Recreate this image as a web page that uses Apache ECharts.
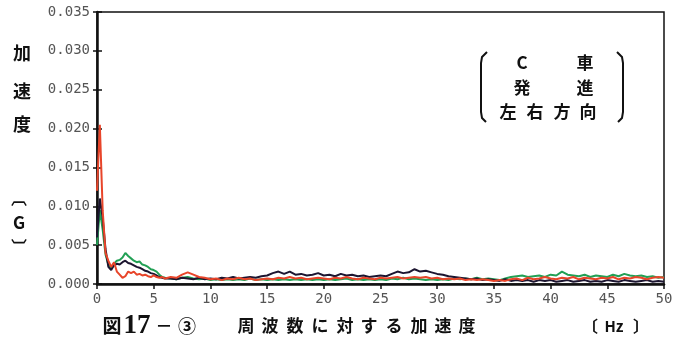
<!DOCTYPE html>
<html>
<head>
<meta charset="utf-8">
<script src="https://cdn.jsdelivr.net/npm/echarts@6/dist/echarts.min.js"></script>
<style>
  html, body { margin: 0; padding: 0; background: #fff; }
  #chart { width: 689px; height: 337px; }
</style>
</head>
<body>
<div id="chart"></div>
<script>
// Frequency grid (Hz)
const freq = [
  0, 0.25, 0.5, 0.75, 1, 1.25, 1.5, 1.75, 2, 2.25,
  2.5, 2.75, 3, 3.25, 3.5, 3.75, 4, 4.25, 4.5, 4.75,
  5, 5.25, 5.5, 5.75, 6, 6.5, 7, 7.5, 8, 8.5,
  9, 9.5, 10, 10.5, 11, 11.5, 12, 12.5, 13, 13.5,
  14, 14.5, 15, 15.5, 16, 16.5, 17, 17.5, 18, 18.5,
  19, 19.5, 20, 20.5, 21, 21.5, 22, 22.5, 23, 23.5,
  24, 24.5, 25, 25.5, 26, 26.5, 27, 27.5, 28, 28.5,
  29, 29.5, 30, 30.5, 31, 31.5, 32, 32.5, 33, 33.5,
  34, 34.5, 35, 35.5, 36, 36.5, 37, 37.5, 38, 38.5,
  39, 39.5, 40, 40.5, 41, 41.5, 42, 42.5, 43, 43.5,
  44, 44.5, 45, 45.5, 46, 46.5, 47, 47.5, 48, 48.5,
  49, 49.5, 50
];

// Acceleration (G) – dark trace
const accBlack = [
  .0060, .0110, .0085, .0045, .0022, .0018, .0024, .0026, .0025, .0028,
  .0030, .0027, .0026, .0024, .0022, .0021, .0019, .0017, .0016, .0014,
  .0013, .0011, .0009, .0008, .0007, .0007, .0006, .0008, .0007, .0006,
  .0008, .0006, .0007, .0006, .0008, .0007, .0009, .0007, .0008, .0009,
  .0008, .0010, .0011, .0014, .0016, .0013, .0016, .0012, .0013, .0011,
  .0012, .0014, .0011, .0012, .0010, .0013, .0011, .0012, .0010, .0011,
  .0009, .0010, .0011, .0010, .0013, .0016, .0014, .0015, .0019, .0016,
  .0017, .0015, .0013, .0012, .0010, .0009, .0008, .0007, .0006, .0007,
  .0005, .0006, .0005, .0004, .0006, .0004, .0005, .0004, .0005, .0003,
  .0005, .0004, .0005, .0003, .0004, .0005, .0003, .0004, .0005, .0003,
  .0004, .0003, .0005, .0004, .0003, .0005, .0004, .0003, .0004, .0005,
  .0003, .0004, .0003
];

// Acceleration (G) – green trace
const accGreen = [
  .0050, .0095, .0070, .0038, .0025, .0020, .0026, .0030, .0031, .0034,
  .0040, .0036, .0033, .0030, .0028, .0029, .0025, .0024, .0022, .0019,
  .0018, .0016, .0012, .0009, .0008, .0007, .0006, .0008, .0009, .0007,
  .0006, .0007, .0005, .0006, .0005, .0006, .0005, .0006, .0005, .0007,
  .0005, .0006, .0005, .0006, .0005, .0006, .0005, .0006, .0005, .0006,
  .0005, .0006, .0005, .0006, .0005, .0006, .0007, .0005, .0006, .0005,
  .0006, .0005, .0006, .0005, .0007, .0006, .0008, .0006, .0007, .0006,
  .0005, .0006, .0005, .0006, .0005, .0007, .0006, .0007, .0006, .0008,
  .0006, .0007, .0006, .0005, .0007, .0009, .0010, .0011, .0009, .0010,
  .0011, .0009, .0012, .0011, .0016, .0012, .0011, .0010, .0012, .0009,
  .0011, .0010, .0009, .0012, .0010, .0013, .0011, .0010, .0011, .0009,
  .0010, .0008, .0009
];

// Acceleration (G) – red trace
const accRed = [
  .0120, .0205, .0095, .0040, .0030, .0022, .0028, .0016, .0012, .0008,
  .0010, .0016, .0014, .0016, .0012, .0013, .0011, .0012, .0010, .0009,
  .0011, .0009, .0008, .0009, .0007, .0009, .0008, .0012, .0015, .0012,
  .0009, .0008, .0006, .0007, .0005, .0007, .0006, .0008, .0006, .0007,
  .0005, .0006, .0007, .0006, .0008, .0007, .0009, .0007, .0008, .0006,
  .0007, .0008, .0007, .0006, .0008, .0007, .0009, .0007, .0006, .0008,
  .0007, .0006, .0008, .0007, .0008, .0009, .0007, .0008, .0009, .0008,
  .0009, .0007, .0008, .0006, .0007, .0006, .0007, .0005, .0006, .0005,
  .0006, .0005, .0004, .0005, .0004, .0006, .0007, .0005, .0008, .0006,
  .0007, .0009, .0007, .0006, .0008, .0007, .0009, .0006, .0008, .0007,
  .0006, .0008, .0007, .0009, .0006, .0008, .0007, .0009, .0008, .0006,
  .0008, .0009, .0008
];

const xTicks = { min: 0, max: 50, interval: 5 };
const yTicks = { min: 0, max: 0.035, interval: 0.005 };

const pairs = vals => freq.map((f, i) => [f, vals[i]]);

const JP = '"Noto Sans CJK JP", sans-serif';
const MONO = '"DejaVu Sans Mono", monospace';

function label(text, x, y, size, extra) {
  return Object.assign({
    type: 'text', x: x, y: y, silent: true,
    style: {
      text: text, fill: '#111',
      font: 'bold ' + size + 'px ' + JP,
      textAlign: 'center', textVerticalAlign: 'middle'
    }
  }, extra || {});
}

const graphics = [
  // vertical axis title
  label('加', 22, 53, 18),
  label('速', 22, 91, 18),
  label('度', 22, 124, 18),
  label('︹', 19, 198, 16),
  label('G', 19, 223, 17),
  label('︺', 19, 247, 16),
  // condition box
  label('C', 522, 63, 17),
  label('車', 585, 63, 17),
  label('発', 522, 88, 17),
  label('進', 585, 88, 17),
  label('左', 508, 112, 17),
  label('右', 535, 112, 17),
  label('方', 562, 112, 17),
  label('向', 588, 112, 17),
  {
    type: 'polyline', silent: true,
    shape: { points: [[487, 52], [482, 57], [481, 63], [481, 112], [482, 118], [486, 122]] },
    style: { stroke: '#111', lineWidth: 2, fill: null }
  },
  {
    type: 'polyline', silent: true,
    shape: { points: [[617, 52], [622, 57], [623, 63], [623, 112], [622, 118], [618, 122]] },
    style: { stroke: '#111', lineWidth: 2, fill: null }
  },
  // caption
  label('図', 112, 326, 19),
  {
    type: 'text', x: 137, y: 326, silent: true,
    style: {
      text: '17', fill: '#111',
      font: 'bold 27px "Liberation Serif", serif',
      textAlign: 'center', textVerticalAlign: 'middle'
    }
  },
  label('－', 164, 326, 17),
  label('③', 187, 326, 18),
  label('周', 246, 326, 17),
  label('波', 270, 326, 17),
  label('数', 295, 326, 17),
  label('に', 320, 326, 17),
  label('対', 345, 326, 17),
  label('す', 369, 326, 17),
  label('る', 394, 326, 17),
  label('加', 419, 326, 17),
  label('速', 443, 326, 17),
  label('度', 467, 326, 17),
  label('〔', 590, 326, 16),
  label('Hz', 614, 326, 15),
  label('〕', 641, 326, 16)
];

const chart = echarts.init(document.getElementById('chart'), null, { renderer: 'canvas' });

const gridTicks = {
  type: 'value',
  min: yTicks.min, max: yTicks.max, interval: yTicks.interval,
  splitLine: { show: false }
};

chart.setOption({
  animation: false,
  backgroundColor: '#fff',
  grid: {
    left: 97, right: 25, top: 12, bottom: 53,
    show: true, borderColor: '#111', borderWidth: 1.5, backgroundColor: 'transparent'
  },
  xAxis: {
    type: 'value',
    min: xTicks.min, max: xTicks.max, interval: xTicks.interval,
    axisLine: { show: true, onZero: false, lineStyle: { color: '#111', width: 2.5 } },
    axisTick: { show: true, inside: false, length: 5, lineStyle: { color: '#111', width: 1.5 } },
    axisLabel: { color: '#555', fontFamily: MONO, fontSize: 14, margin: 8 },
    splitLine: { show: false }
  },
  yAxis: [
    Object.assign({}, gridTicks, {
      axisLine: { show: true, onZero: false, lineStyle: { color: '#111', width: 2.5 } },
      axisTick: { show: true, inside: false, length: 4, lineStyle: { color: '#111', width: 1.5 } },
      axisLabel: {
        color: '#555', fontFamily: MONO, fontSize: 14, margin: 7,
        formatter: v => v.toFixed(3)
      }
    }),
    Object.assign({}, gridTicks, {
      position: 'left',
      axisLine: { show: false },
      axisTick: { show: true, inside: true, length: 5, lineStyle: { color: '#111', width: 1.5 } },
      axisLabel: { show: false }
    })
  ],
  series: [
    {
      name: 'green', type: 'line', data: pairs(accGreen), symbol: 'none',
      lineStyle: { color: '#22a055', width: 2 }
    },
    {
      name: 'dark', type: 'line', data: pairs(accBlack), symbol: 'none',
      lineStyle: { color: '#1c1530', width: 2 }
    },
    {
      name: 'red', type: 'line', data: pairs(accRed), symbol: 'none',
      lineStyle: { color: '#e8452a', width: 2 }
    }
  ],
  graphic: graphics
});
</script>
</body>
</html>
